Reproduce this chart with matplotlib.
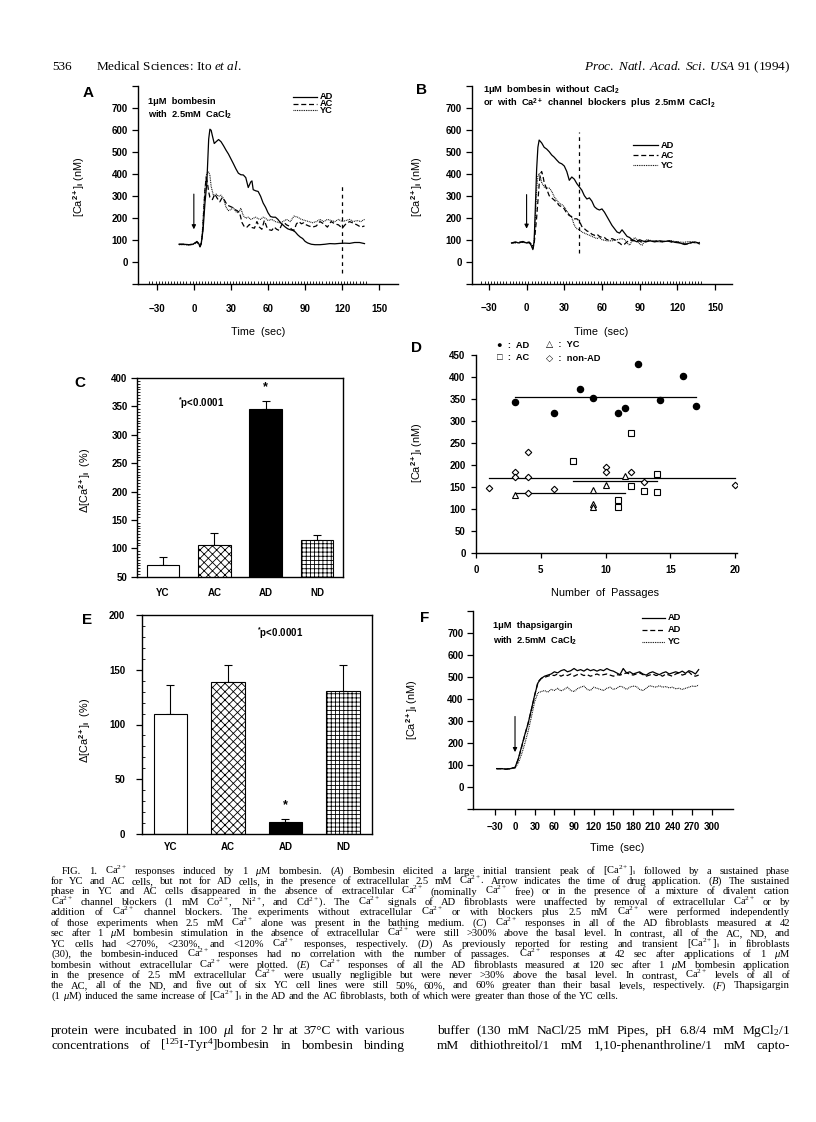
import numpy as np
import matplotlib
matplotlib.use('Agg')
import matplotlib.pyplot as plt
from matplotlib.lines import Line2D

W, H = 816, 1122
plt.rcParams['font.family'] = ['Liberation Sans', 'DejaVu Sans']
plt.rcParams['font.weight'] = 'bold'
plt.rcParams['mathtext.fontset'] = 'custom'
plt.rcParams['mathtext.rm'] = 'Liberation Serif:weight=normal'
plt.rcParams['mathtext.it'] = 'Liberation Serif:style=italic:weight=normal'
plt.rcParams['mathtext.bf'] = 'Liberation Serif:weight=bold'
plt.rcParams['mathtext.sf'] = 'Liberation Sans:weight=bold'
plt.rcParams['hatch.linewidth'] = 0.6
plt.rcParams['axes.linewidth'] = 1.0

# ---- data ----
# A: 1uM bombesin with 2.5mM CaCl2   (time s, [Ca2+]i nM)
a_ad = [(-12, 82), (-8, 82), (-4, 80), (-1, 82), (1, 88), (2.5, 95), (4, 85), (5, 70), (6, 85),
        (7.5, 150), (9, 270), (10.5, 360), (12, 560), (13, 605), (14, 600), (15, 575), (16.5, 540),
        (18, 548), (20, 558), (22, 548), (24, 530), (26, 510), (28, 492), (30, 470), (32, 448),
        (34, 425), (36, 405), (38, 398), (40, 397), (42, 385), (44, 340), (46, 365), (47, 370),
        (48, 330), (50, 325), (52, 322), (54, 300), (56, 270), (58, 250), (60, 225), (62, 208),
        (64, 205), (66, 205), (68, 195), (70, 180), (72, 170), (74, 160), (76, 152), (78, 148),
        (80, 145), (82, 138), (84, 125), (86, 115), (88, 108), (90, 95), (92, 88), (95, 82),
        (98, 80), (102, 80), (106, 82), (110, 85), (114, 84), (118, 86), (122, 87), (126, 86),
        (130, 90), (134, 90), (138, 85)]
a_ac = [(-12, 82), (-8, 82), (-4, 80), (-1, 82), (1, 88), (2.5, 92), (4, 84), (5, 72), (6, 85),
        (7, 130), (8, 230), (9, 330), (10, 385), (11, 360), (12, 320), (13, 295), (15, 285),
        (17, 310), (19, 290), (21, 275), (23, 295), (25, 280), (27, 260), (29, 255), (31, 250),
        (33, 240), (35, 235), (37, 225), (39, 180), (41, 160), (43, 160), (45, 172), (47, 158),
        (49, 155), (51, 185), (53, 160), (55, 150), (57, 190), (59, 160), (61, 148), (63, 145),
        (65, 160), (67, 150), (69, 145), (71, 170), (73, 180), (75, 170), (77, 165), (79, 150),
        (81, 145), (83, 175), (85, 185), (87, 175), (89, 180), (91, 170), (93, 165), (96, 160),
        (99, 165), (102, 185), (105, 175), (108, 160), (111, 185), (114, 175), (117, 170),
        (120, 155), (123, 175), (126, 185), (129, 178), (132, 170), (135, 160), (138, 165)]
a_yc = [(-12, 80), (-8, 80), (-4, 79), (-1, 80), (1, 85), (2.5, 90), (4, 82), (5, 75), (6, 90),
        (7, 150), (8, 250), (9, 330), (10, 395), (11, 408), (12, 410), (13, 395), (14, 345),
        (16, 300), (18, 310), (20, 300), (22, 305), (24, 290), (26, 250), (28, 235), (30, 240),
        (32, 248), (34, 230), (36, 225), (38, 245), (40, 212), (42, 200), (44, 205), (46, 195),
        (48, 200), (50, 205), (52, 198), (54, 195), (56, 205), (58, 200), (60, 190), (63, 195),
        (66, 185), (69, 180), (72, 185), (75, 195), (78, 185), (81, 210), (84, 205), (87, 195),
        (90, 190), (93, 185), (96, 180), (99, 185), (102, 195), (105, 185), (108, 195), (111, 190),
        (114, 185), (117, 195), (120, 185), (123, 190), (126, 195), (129, 185), (132, 190),
        (135, 185), (138, 195)]

# B: bombesin without CaCl2 or with channel blockers
b_ad = [(-12, 85), (-9, 90), (-6, 85), (-3, 92), (0, 85), (2, 90), (4, 70), (5, 55), (6, 90),
        (7, 250), (8, 420), (9, 520), (10, 553), (12, 540), (14, 520), (16, 512), (18, 500),
        (20, 485), (22, 475), (24, 462), (26, 450), (28, 445), (30, 435), (32, 410), (34, 370),
        (36, 385), (38, 375), (40, 355), (42, 340), (44, 325), (46, 300), (48, 285), (50, 290),
        (52, 275), (54, 250), (56, 240), (58, 235), (60, 240), (62, 225), (64, 205), (66, 185),
        (68, 165), (70, 150), (72, 135), (74, 130), (76, 145), (78, 130), (80, 115), (82, 110),
        (84, 100), (86, 95), (88, 90), (90, 100), (92, 95), (95, 90), (98, 95), (102, 90),
        (106, 95), (110, 92), (114, 95), (118, 88), (122, 85), (126, 78), (130, 85), (134, 90),
        (137, 85)]
b_ac = [(-12, 85), (-8, 88), (-4, 90), (0, 88), (3, 85), (5, 60), (6, 80), (8, 200), (10, 350),
        (11, 400), (12, 410), (13, 390), (14, 360), (16, 330), (18, 300), (20, 290), (22, 280),
        (24, 270), (26, 255), (28, 250), (30, 240), (32, 220), (34, 210), (36, 205), (38, 195),
        (40, 195), (42, 185), (44, 160), (46, 150), (48, 140), (50, 135), (52, 125), (54, 120),
        (56, 125), (58, 115), (60, 110), (62, 110), (64, 100), (66, 100), (68, 105), (70, 100),
        (72, 90), (74, 85), (76, 75), (78, 80), (80, 90), (82, 100), (85, 95), (88, 100), (91, 90),
        (94, 90), (97, 95), (100, 92), (104, 95), (108, 90), (112, 95), (116, 88), (120, 90),
        (124, 82), (128, 80), (132, 88), (136, 85), (138, 80)]
b_yc = [(-12, 85), (-8, 86), (-4, 88), (0, 86), (3, 84), (5, 70), (6, 90), (7, 200), (8, 330),
        (9, 390), (10, 400), (11, 385), (12, 360), (14, 340), (16, 335), (18, 335), (20, 320),
        (22, 295), (24, 280), (26, 265), (28, 260), (30, 250), (32, 230), (34, 215), (36, 200),
        (38, 165), (40, 150), (42, 145), (44, 135), (46, 130), (48, 125), (50, 120), (52, 115),
        (54, 110), (56, 105), (58, 110), (60, 100), (64, 95), (68, 95), (72, 100), (76, 105),
        (78, 100), (80, 85), (82, 75), (84, 95), (86, 110), (88, 100), (90, 80), (92, 75),
        (94, 95), (96, 100), (100, 95), (105, 90), (110, 92), (115, 95), (120, 90), (125, 88),
        (130, 92), (135, 85), (138, 88)]

# C and E: response bars
groups = ['YC', 'AC', 'AD', 'ND']
c_mean = [71, 106, 345, 114]
c_err = [14, 21, 15, 10]
e_mean = [110, 138.5, 10.7, 130.6]
e_err = [26, 16, 3, 24]

# D: response vs number of passages
d_ad_x = [3, 6, 8, 9, 11, 11.5, 12.5, 14.2, 16, 17]
d_ad_y = [344, 319, 373, 353, 319, 329, 430, 349, 402, 335]
d_ac_x = [7.5, 12, 12, 13, 14, 14, 11, 11]
d_ac_y = [209, 274, 153, 142, 180, 138, 122, 104]
d_yc_x = [3, 9, 9, 9, 10, 11.5]
d_yc_y = [132, 144, 113, 106, 154, 176]
d_non_x = [1, 3, 3, 4, 4, 4, 6, 10, 10, 12, 13, 20]
d_non_y = [149, 185, 174, 231, 174, 136, 147, 195, 184, 185, 161, 154]
d_fit = {'AD': (3, 17, 355), 'AC': (7.5, 14, 165), 'YC': (3, 11.5, 136), 'non-AD': (1, 20, 171)}

# F: thapsigargin
f_ad1 = [(-28, 85), (-20, 85), (-14, 82), (-8, 84), (-4, 88), (0, 90), (5, 130), (10, 185),
         (15, 240), (20, 290), (25, 355), (30, 420), (35, 475), (40, 495), (45, 505), (50, 510),
         (55, 515), (60, 525), (65, 520), (70, 530), (75, 535), (80, 525), (85, 530), (90, 540),
         (95, 530), (100, 535), (105, 528), (110, 538), (115, 530), (120, 535), (125, 528),
         (130, 535), (135, 530), (140, 540), (145, 532), (150, 528), (155, 520), (160, 512),
         (165, 540), (170, 520), (175, 525), (180, 515), (185, 520), (190, 525), (195, 515),
         (200, 510), (205, 520), (210, 525), (215, 518), (220, 512), (225, 520), (230, 525),
         (235, 515), (240, 520), (245, 525), (250, 520), (255, 528), (260, 518), (265, 530),
         (270, 525), (275, 515), (280, 535)]
f_ad2 = [(-28, 84), (-20, 84), (-14, 83), (-8, 85), (-4, 87), (0, 89), (5, 128), (10, 182),
         (15, 238), (20, 292), (25, 352), (30, 418), (35, 480), (40, 495), (45, 500), (50, 505),
         (55, 510), (60, 508), (65, 515), (70, 505), (75, 512), (80, 508), (85, 515), (90, 505),
         (95, 512), (100, 515), (105, 508), (110, 512), (115, 505), (120, 510), (125, 515),
         (130, 508), (135, 512), (140, 515), (145, 510), (150, 505), (155, 512), (160, 510),
         (165, 515), (170, 520), (175, 515), (180, 510), (185, 515), (190, 520), (195, 512),
         (200, 505), (205, 510), (210, 515), (215, 508), (220, 512), (225, 505), (230, 515),
         (235, 510), (240, 505), (245, 515), (250, 520), (255, 510), (260, 515), (265, 525),
         (270, 510), (275, 505), (280, 510)]
f_yc = [(-28, 85), (-20, 85), (-14, 83), (-8, 84), (-4, 86), (0, 88), (5, 110), (10, 150),
        (15, 200), (20, 255), (25, 320), (30, 390), (35, 430), (40, 435), (45, 440), (50, 432),
        (55, 445), (60, 440), (65, 450), (70, 438), (75, 445), (80, 455), (85, 440), (90, 435),
        (95, 448), (100, 455), (105, 460), (110, 445), (115, 440), (120, 455), (125, 450),
        (130, 445), (135, 440), (140, 450), (145, 455), (150, 445), (155, 450), (160, 460),
        (165, 455), (170, 445), (175, 455), (180, 460), (185, 458), (190, 445), (195, 440),
        (200, 450), (205, 462), (210, 458), (215, 455), (220, 462), (225, 455), (230, 458),
        (235, 452), (240, 455), (245, 448), (250, 450), (255, 445), (260, 450), (265, 455),
        (270, 460), (275, 458), (280, 465)]

caption = [
    'FIG. 1. Ca2+ responses induced by 1 μM bombesin. (A) Bombesin elicited a large initial transient peak of [Ca2+]i followed by a sustained phase',
    'for YC and AC cells, but not for AD cells, in the presence of extracellular 2.5 mM Ca2+. Arrow indicates the time of drug application. (B) The sustained',
    'phase in YC and AC cells disappeared in the absence of extracellular Ca2+ (nominally Ca2+ free) or in the presence of a mixture of divalent cation',
    'Ca2+ channel blockers (1 mM Co2+, Ni2+, and Cd2+). The Ca2+ signals of AD fibroblasts were unaffected by removal of extracellular Ca2+ or by',
    'addition of Ca2+ channel blockers. The experiments without extracellular Ca2+ or with blockers plus 2.5 mM Ca2+ were performed independently',
    'of those experiments when 2.5 mM Ca2+ alone was present in the bathing medium. (C) Ca2+ responses in all of the AD fibroblasts measured at 42',
    'sec after 1 μM bombesin stimulation in the absence of extracellular Ca2+ were still >300% above the basal level. In contrast, all of the AC, ND, and',
    'YC cells had <270%, <230%, and <120% Ca2+ responses, respectively. (D) As previously reported for resting and transient [Ca2+]i in fibroblasts',
    '(30), the bombesin-induced Ca2+ responses had no correlation with the number of passages. Ca2+ responses at 42 sec after applications of 1 μM',
    'bombesin without extracellular Ca2+ were plotted. (E) Ca2+ responses of all the AD fibroblasts measured at 120 sec after 1 μM bombesin application',
    'in the presence of 2.5 mM extracellular Ca2+ were usually negligible but were never >30% above the basal level. In contrast, Ca2+ levels of all of',
    'the AC, all of the ND, and five out of six YC cell lines were still 50%, 60%, and 60% greater than their basal levels, respectively. (F) Thapsigargin',
    '(1 μM) induced the same increase of [Ca2+]i in the AD and the AC fibroblasts, both of which were greater than those of the YC cells.',
]
body_left = ['protein were incubated in 100 μl for 2 hr at 37°C with various',
             'concentrations of [$^{125}$I-Tyr$^{4}$]bombesin in bombesin binding']
body_right = ['buffer (130 mM NaCl/25 mM Pipes, pH 6.8/4 mM MgCl$_2$/1',
              'mM dithiothreitol/1 mM 1,10-phenanthroline/1 mM capto-']

# ---- helpers ----
fig = plt.figure(figsize=(W / 100, H / 100), dpi=100)
renderer = fig.canvas.get_renderer()


def box(l, t, r, b):
    return [l / W, 1 - b / H, (r - l) / W, (b - t) / H]


def ftext(px, py, s, **kw):
    return fig.text(px / W, 1 - py / H, s, **kw)


def figline(x0, x1, y, **kw):
    fig.add_artist(Line2D([x0 / W, x1 / W], [1 - y / H] * 2, transform=fig.transFigure, color='k', **kw))


def labpos(ax, pb, px, py, which):
    l, t, r, b = pb
    if which == 'x':
        ax.xaxis.set_label_coords((px - l) / (r - l), (b - py) / (b - t))
    else:
        ax.yaxis.set_label_coords((px - l) / (r - l), (b - py) / (b - t))


def unz(p):
    return [q[0] for q in p], [q[1] for q in p]


TFS = 7.0    # tick labels
LFS = 7.8    # axis labels
AFS = 6.7    # in-panel notes and legends
ca_lab = r'[Ca$^{\mathsf{2+}}$]$_{\mathsf{i}}$ (nM)'
dca_lab = r'Δ[Ca$^{\mathsf{2+}}$]$_{\mathsf{i}}$  (%)'
solid = dict(color='k', lw=0.9)
dash = dict(color='k', lw=0.9, dashes=(4, 2.2))
dot = dict(color='k', lw=0.8, dashes=(0.8, 0.8))
arrow = dict(arrowstyle='-|>', lw=0.8, color='k', mutation_scale=6, shrinkA=0, shrinkB=0)


def trace_axes(pb, xlim, xmaj, xmin_ticks):
    ax = fig.add_axes(box(*pb))
    ax.spines['top'].set_visible(False)
    ax.spines['right'].set_visible(False)
    ax.set_xlim(*xlim)
    ax.set_ylim(-100, 800)
    ax.set_xticks(xmaj)
    if xmin_ticks is not None:
        ax.set_xticks(xmin_ticks, minor=True)
    ax.set_yticks(range(-100, 801, 100))
    ax.set_yticklabels([''] + [str(v) for v in range(0, 701, 100)] + [''])
    ax.tick_params(axis='both', which='major', direction='out', length=4, width=0.9, labelsize=TFS)
    ax.tick_params(axis='x', which='minor', direction='in', length=2.5, width=0.6)
    ax.tick_params(axis='y', pad=3)
    ax.set_ylabel(ca_lab, fontsize=LFS)
    ax.set_xlabel('Time  (sec)', fontsize=LFS)
    return ax


# ---- A ----
pa = (137.7, 86.3, 398, 284.3)
ax = trace_axes(pa, (-45.4, 165.1), range(-30, 151, 30), np.arange(-36, 141, 2.5))
ax.tick_params(axis='x', pad=10)
ax.plot(*unz(a_ad), **solid)
ax.plot(*unz(a_ac), **dash)
ax.plot(*unz(a_yc), **dot)
ax.plot([120, 120], [-50, 350], color='k', lw=0.9, dashes=(3, 3))
ax.annotate('', xy=(0, 150), xytext=(0, 310), arrowprops=arrow)
labpos(ax, pa, 86.7, 187, 'y')
labpos(ax, pa, 258, 327, 'x')
ftext(148, 101.5, '1μM  bombesin', fontsize=AFS, va='center')
ftext(148, 115, r'with  2.5mM  CaCl$_{\mathsf{2}}$', fontsize=AFS, va='center')
for yy, kw, nm in [(96.7, solid, 'AD'), (103.5, dash, 'AC'), (110.3, dot, 'YC')]:
    figline(293, 317, yy, **{k: v for k, v in kw.items() if k != 'color'})
    ftext(320, yy, nm, fontsize=AFS, va='center')
ftext(88, 93, 'A', fontsize=11, va='center', ha='center')

# ---- B ----
pbx = (471.7, 85.7, 731.7, 283.7)
ax = trace_axes(pbx, (-43.7, 163.3), range(-30, 151, 30), np.arange(-36, 141, 2.5))
ax.tick_params(axis='x', pad=10)
ax.plot(*unz(b_ad), **solid)
ax.plot(*unz(b_ac), **dash)
ax.plot(*unz(b_yc), **dot)
ax.plot([42, 42], [40, 590], color='k', lw=0.9, dashes=(3, 3))
ax.annotate('', xy=(0, 150), xytext=(0, 305), arrowprops=arrow)
labpos(ax, pbx, 425, 187, 'y')
labpos(ax, pbx, 601, 327, 'x')
ftext(483, 90, r'1μM  bombesin  without  CaCl$_{\mathsf{2}}$', fontsize=AFS, va='center')
ftext(483, 103.5, r'or  with  Ca$^{\mathsf{2+}}$  channel  blockers  plus  2.5mM  CaCl$_{\mathsf{2}}$',
      fontsize=AFS, va='center')
for yy, kw, nm in [(145, solid, 'AD'), (155, dash, 'AC'), (165, dot, 'YC')]:
    figline(633, 658, yy, **{k: v for k, v in kw.items() if k != 'color'})
    ftext(661, yy, nm, fontsize=AFS, va='center')
ftext(421.7, 90, 'B', fontsize=11, va='center', ha='center')

# ---- bars (C, E) ----
hatches = ['', 'xxxx', '', '++++']
colors = ['white', 'white', 'black', 'white']


def bar_axes(pb, ylim, ymaj, ymin, means, errs, width):
    ax = fig.add_axes(box(*pb))
    x = np.arange(len(groups))
    ax.bar(x, means, width=width, color=colors, edgecolor='k', hatch=hatches, lw=0.8, zorder=2)
    ax.errorbar(x, means, yerr=[np.zeros(len(errs)), errs], fmt='none', ecolor='k',
                elinewidth=0.8, capsize=3, capthick=0.8, zorder=1)
    ax.set_xlim(-0.5, 3.5)
    ax.set_ylim(*ylim)
    ax.set_xticks(x)
    ax.set_xticklabels(groups)
    ax.set_yticks(ymaj)
    ax.set_yticks(ymin, minor=True)
    ax.tick_params(axis='x', length=0, labelsize=TFS, pad=8)
    ax.tick_params(axis='y', which='major', direction='out', length=4, width=0.9, labelsize=TFS, pad=3)
    ax.tick_params(axis='y', which='minor', direction='in', length=2, width=0.6)
    ax.set_ylabel(dca_lab, fontsize=LFS)
    return ax


pc = (137.3, 378, 342.7, 576.7)
ax = bar_axes(pc, (50, 400), range(50, 401, 50), range(50, 401, 5), c_mean, c_err, 0.64)
labpos(ax, pc, 93.3, 480, 'y')
ax.text(2, 383, '*', ha='center', va='center', fontsize=9)
ftext(178, 403, r'$^{\mathsf{*}}$p<0.0001', fontsize=AFS + 0.3, va='center')
ftext(80, 383, 'C', fontsize=11, va='center', ha='center')

pe = (141.7, 615, 371.7, 834)
ax = bar_axes(pe, (0, 200), range(0, 201, 50), range(0, 201, 10), e_mean, e_err, 0.58)
ax.tick_params(axis='y', which='major', pad=8)
ax.tick_params(axis='x', pad=6)
labpos(ax, pe, 93.3, 730, 'y')
ax.text(2, 26, '*', ha='center', va='center', fontsize=9)
ftext(257, 633, r'$^{\mathsf{*}}$p<0.0001', fontsize=AFS + 0.3, va='center')
ftext(86.7, 620, 'E', fontsize=11, va='center', ha='center')

# ---- D ----
pdx = (476, 355, 736.7, 553.3)
ax = fig.add_axes(box(*pdx))
ax.spines['top'].set_visible(False)
ax.spines['right'].set_visible(False)
ax.set_xlim(0, 20.13)
ax.set_ylim(0, 450)
ax.set_xticks(range(0, 21, 5))
ax.set_yticks(range(0, 451, 50))
ax.tick_params(axis='both', direction='out', length=3.5, width=0.9, labelsize=TFS)
ax.tick_params(axis='y', pad=4)
ax.tick_params(axis='x', pad=5)
for nm, (x0, x1, yv) in d_fit.items():
    ax.plot([x0, x1], [yv, yv], color='k', lw=0.9)
ax.plot(d_ad_x, d_ad_y, 'o', ms=4.4, color='k', clip_on=False)
ax.plot(d_ac_x, d_ac_y, 's', ms=3.9, mfc='white', mec='k', mew=0.8)
ax.plot(d_yc_x, d_yc_y, '^', ms=3.9, mfc='white', mec='k', mew=0.8)
ax.plot(d_non_x, d_non_y, 'D', ms=3.3, mfc='white', mec='k', mew=0.8)
ax.set_ylabel(ca_lab, fontsize=LFS)
ax.set_xlabel('Number  of  Passages', fontsize=LFS)
labpos(ax, pdx, 425, 453, 'y')
labpos(ax, pdx, 605, 588, 'x')
ftext(497, 345, '●  :  AD', fontsize=AFS, va='center')
ftext(546, 345, '△  :  YC', fontsize=AFS, va='center')
ftext(497, 358, '□  :  AC', fontsize=AFS, va='center')
ftext(546, 358, '◇  :  non-AD', fontsize=AFS, va='center')
ftext(416.7, 348, 'D', fontsize=11, va='center', ha='center')

# ---- F ----
pf = (473.3, 611.3, 733.3, 809.3)
ax = trace_axes(pf, (-63.6, 332.8), range(-30, 301, 30), None)
ax.tick_params(axis='x', pad=5)
ax.plot(*unz(f_ad1), **solid)
ax.plot(*unz(f_ad2), **dash)
ax.plot(*unz(f_yc), **dot)
ax.annotate('', xy=(0, 160), xytext=(0, 322), arrowprops=arrow)
labpos(ax, pf, 420, 710, 'y')
labpos(ax, pf, 617, 843, 'x')
ftext(493, 625, '1μM  thapsigargin', fontsize=AFS, va='center')
ftext(493, 641, r'with  2.5mM  CaCl$_{\mathsf{2}}$', fontsize=AFS, va='center')
for yy, kw, nm in [(618, solid, 'AD'), (630, dash, 'AD'), (642, dot, 'YC')]:
    figline(642, 665, yy, **{k: v for k, v in kw.items() if k != 'color'})
    ftext(668, yy, nm, fontsize=AFS, va='center')
ftext(425, 618, 'F', fontsize=11, va='center', ha='center')

# ---- page text ----
serif = dict(family='Liberation Serif', fontweight='normal')


def fmt(s):
    s = s.replace('[Ca2+]i', r'[Ca$^{2+}$]$_{\mathrm{i}}$')
    for ion in ['Ca', 'Co', 'Ni', 'Cd']:
        s = s.replace(ion + '2+', ion + '$^{2+}$')
    for L in 'ABCDEF':
        s = s.replace('(' + L + ')', r'($\mathit{' + L + '}$)')
    s = s.replace('μ', r'$\mu$')
    return s


def natural_width(s, size):
    t = ftext(0, 0, s, fontsize=size, **serif)
    w = t.get_window_extent(renderer).width
    t.remove()
    return w


def fit_size(lines, spans, base, cap):
    r = [span / natural_width(s, base) for s, span in zip(lines, spans)]
    return min(base * min(r) * 0.99, cap)


def put_line(x0, x1, y, s, size, justify=True):
    words = s.split(' ')
    ts = [ftext(0, y, w, fontsize=size, va='baseline', **serif) for w in words]
    ws = [t.get_window_extent(renderer).width for t in ts]
    gap = (x1 - x0 - sum(ws)) / (len(ws) - 1) if justify else size * 100 / 72 * 0.25
    x = x0
    for t, w in zip(ts, ws):
        t.set_x(x / W)
        x += w + gap


cap_lines = [fmt(s) for s in caption]
cap_x0 = [62] + [51] * (len(cap_lines) - 1)
cap_size = fit_size(cap_lines[:-1], [790 - x for x in cap_x0[:-1]], 8, 7.6)
for i, line in enumerate(cap_lines):
    put_line(cap_x0[i], 790, 873.5 + 10.45 * i, line, cap_size, justify=(i < len(cap_lines) - 1))

body = [fmt(s) for s in body_left + body_right]
body_size = fit_size(body, [353] * 4, 9, 9.6)
for i, line in enumerate(body_left):
    put_line(51, 404, 1034 + 15 * i, fmt(line), body_size)
for i, line in enumerate(body_right):
    put_line(437, 790, 1034 + 15 * i, fmt(line), body_size)

ftext(52, 70, '536', fontsize=9.5, va='baseline', **serif)
ftext(96, 70, r'Medical Sciences: Ito $\mathit{et\ al.}$', fontsize=9.5, va='baseline', **serif)
ftext(790, 70, r'$\mathit{Proc.\ Natl.\ Acad.\ Sci.\ USA\ 91\ (1994)}$', fontsize=9.5,
      va='baseline', ha='right', **serif)

fig.savefig('out.png', dpi=100)
